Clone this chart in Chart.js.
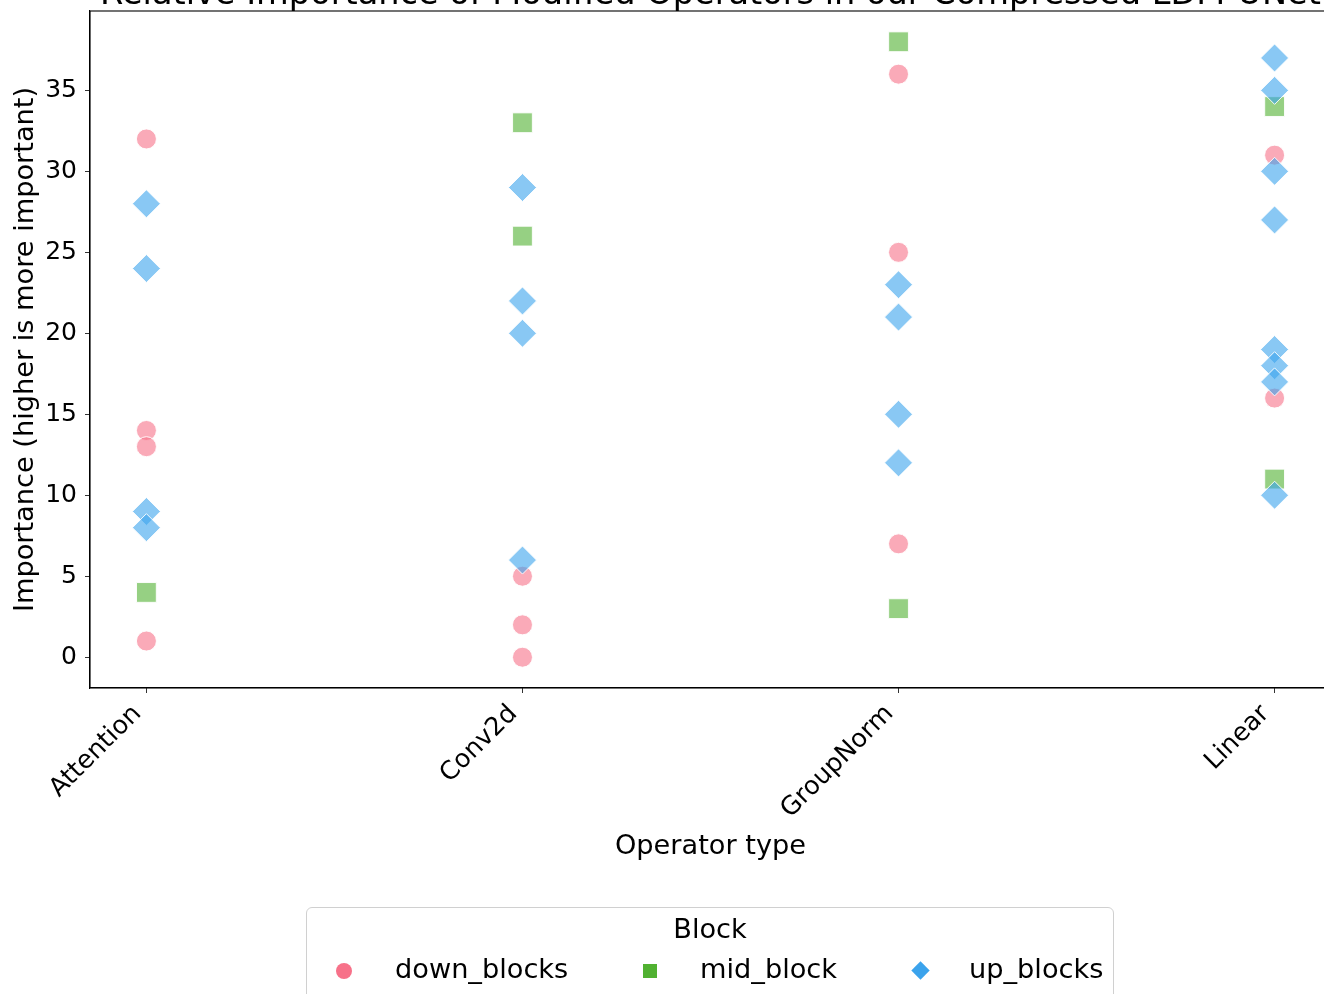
<!DOCTYPE html>
<html>
<head>
<meta charset="utf-8">
<script src="https://cdn.jsdelivr.net/npm/chart.js@4"></script>
<style>
  html, body { margin: 0; padding: 0; background: #fff; overflow: hidden; width: 1324px; height: 994px; }
  #wrap { position: absolute; left: 0; top: 0; width: 1340px; height: 994px; }
  #legend {
    position: absolute; left: 306px; top: 907px; width: 806px; height: 110px;
    border: 1.5px solid #d0d0d0; border-radius: 6px; background: #fff;
    font-family: "DejaVu Sans", sans-serif; font-size: 27.2px; color: #000;
  }
  #legend .title { position: absolute; left: 0; right: 0; top: 5px; text-align: center; }
  #legend .item { position: absolute; top: 45px; }
  #legend .mk { position: absolute; }
  #legend .lbl { position: absolute; top: 0; white-space: nowrap; }
</style>
</head>
<body>
<div id="wrap"><canvas id="chart" width="1340" height="994"></canvas></div>
<div id="legend">
  <div class="title">Block</div>
  <div class="item" style="left:29px"><div class="mk" style="left:0;top:10px;width:16px;height:16px;border-radius:50%;background:#f77189"></div><div class="lbl" style="left:59px">down_blocks</div></div>
  <div class="item" style="left:335px"><div class="mk" style="left:1px;top:11px;width:14px;height:14px;background:#50b131"></div><div class="lbl" style="left:58px">mid_block</div></div>
  <div class="item" style="left:605px"><div class="mk" style="left:2px;top:11px;width:13px;height:13px;background:#3ba3ec;transform:rotate(45deg)"></div><div class="lbl" style="left:57px">up_blocks</div></div>
</div>
<script>
// Operator categories along the x axis
const categories = ['Attention', 'Conv2d', 'GroupNorm', 'Linear'];

// Importance rank per block type, one list per category (same order as categories)
const downBlocks = [[32, 14, 13, 1], [5, 2, 0], [36, 25, 7], [31, 16]];
const midBlock = [[4], [33, 26], [38, 3], [34, 11]];
const upBlocks = [[28, 24, 9, 8], [29, 22, 20, 6], [23, 21, 15, 12], [37, 35, 30, 27, 19, 18, 17, 10]];

const yTicks = [0, 5, 10, 15, 20, 25, 30, 35];

const titleText = 'Relative Importance of Modified Operators in our Compressed LDM-UNet';
const xTitle = 'Operator type';
const yTitle = 'Importance (higher is more important)';

const toPoints = (groups) => {
    const pts = [];
    groups.forEach((vals, i) => vals.forEach(v => pts.push({ x: i, y: v })));
    return pts;
};

// title, axis titles and the axes frame, drawn like matplotlib does
const framePlugin = {
    id: 'frame',
    afterDraw(chart) {
        const { ctx, chartArea: a } = chart;
        ctx.save();
        ctx.strokeStyle = '#000';
        ctx.lineWidth = 1.1;
        ctx.strokeRect(a.left, a.top, a.right - a.left, a.bottom - a.top);

        ctx.fillStyle = '#000';
        ctx.textAlign = 'center';
        ctx.textBaseline = 'alphabetic';
        ctx.font = '33.6px "DejaVu Sans"';
        const cx = (a.left + a.right) / 2;
        ctx.fillText(titleText, cx, 4);

        ctx.font = '27.2px "DejaVu Sans"';
        ctx.textBaseline = 'middle';
        ctx.fillText(xTitle, cx, 847);

        ctx.translate(26, (a.top + a.bottom) / 2);
        ctx.rotate(-Math.PI / 2);
        ctx.fillText(yTitle, 0, 0);
        ctx.restore();
    }
};

const noPad = (s) => { s.paddingTop = 0; s.paddingBottom = 0; s.paddingLeft = 0; s.paddingRight = 0; };

const mkSet = (label, groups, color, style, radius, order) => ({
    label,
    data: toPoints(groups),
    backgroundColor: color,
    borderColor: 'rgba(255,255,255,0.9)',
    borderWidth: 1,
    pointStyle: style,
    pointRadius: radius,
    pointHoverRadius: radius,
    order
});

const ctx = document.getElementById('chart').getContext('2d');
new Chart(ctx, {
    type: 'scatter',
    data: {
        datasets: [
            mkSet('down_blocks', downBlocks, 'rgba(247,113,137,0.6)', 'circle', 10, 3),
            mkSet('mid_block', midBlock, 'rgba(80,177,49,0.6)', 'rect', 14, 2),
            mkSet('up_blocks', upBlocks, 'rgba(59,163,236,0.6)', 'rectRot', 14, 1)
        ]
    },
    options: {
        responsive: false,
        animation: false,
        layout: { autoPadding: false, padding: { left: 0, right: 9, top: 11, bottom: 0 } },
        plugins: {
            legend: { display: false },
            tooltip: { enabled: false },
            title: { display: false }
        },
        scales: {
            x: {
                type: 'linear',
                min: -0.15,
                max: 3.15,
                afterBuildTicks: (s) => { s.ticks = categories.map((c, i) => ({ value: i })); },
                afterFit: (s) => { s.height = 994 - 688; noPad(s); },
                ticks: {
                    autoSkip: false,
                    minRotation: 45,
                    maxRotation: 45,
                    color: '#000',
                    padding: 6,
                    labelOffset: -9,
                    font: { family: 'DejaVu Sans', size: 25.5 },
                    callback: (v) => categories[v]
                },
                grid: { drawOnChartArea: false, drawTicks: true, tickLength: 5, color: '#333', tickWidth: 1 },
                border: { display: true, color: '#000', width: 1.1 }
            },
            y: {
                min: -1.9,
                max: 39.9,
                afterBuildTicks: (s) => { s.ticks = yTicks.map(v => ({ value: v })); },
                afterFit: (s) => { s.width = 90; noPad(s); },
                ticks: {
                    color: '#000',
                    padding: 8,
                    font: { family: 'DejaVu Sans', size: 25 }
                },
                grid: { drawOnChartArea: false, drawTicks: true, tickLength: 5, color: '#333', tickWidth: 1 },
                border: { display: true, color: '#000', width: 1.1 }
            }
        }
    },
    plugins: [framePlugin]
});
</script>
</body>
</html>
